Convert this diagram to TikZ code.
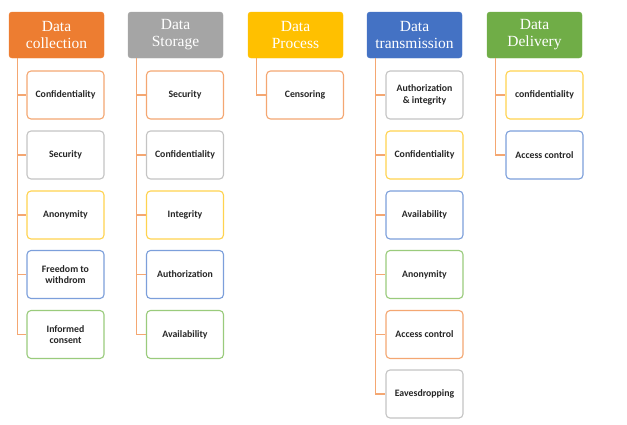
\documentclass[tikz,border=0pt]{standalone}
\usepackage{fontspec}
\setmainfont{Liberation Serif}
\newfontfamily\boxfont{Carlito}
\definecolor{orhead}{HTML}{ED7D31}
\definecolor{grhead}{HTML}{A5A5A5}
\definecolor{gdhead}{HTML}{FFC000}
\definecolor{blhead}{HTML}{4472C4}
\definecolor{gnhead}{HTML}{70AD47}
\definecolor{orline}{HTML}{F4A772}
\definecolor{grline}{HTML}{C4C4C4}
\definecolor{gdline}{HTML}{FFD34F}
\definecolor{blline}{HTML}{7C9FDB}
\definecolor{gnline}{HTML}{9ACB7C}
\tikzset{
  head/.style={draw=#1, fill=#1, rounded corners=3pt, minimum width=95pt, minimum height=46pt,
               text=white, align=center, inner sep=1pt, font=\fontsize{15.5}{17}\selectfont},
  item/.style={draw=#1, fill=white, rounded corners=4pt, line width=1.1pt, minimum width=77pt,
               minimum height=48pt, align=center, inner sep=1pt, text=black!85,
               font=\boxfont\bfseries\fontsize{9.8}{11.5}\selectfont},
  link/.style={draw=orline, line width=1.1pt}
}

\begin{document}
\begin{tikzpicture}[x=1pt,y=-1pt]
                \useasboundingbox (0,0) rectangle (627,424);
                % headers
                \node [head=orhead] (col) at (56.5,35) {Data\\collection};
                \node [head=grhead] (sto) at (175.5,35) {Data\\Storage};
                \node [head=gdhead] (pro) at (295.5,35) {Data\\Process};
                \node [head=blhead] (tra) at (414.5,35) {Data\\transmission};
                \node [head=gnhead] (del) at (534.5,35) {Data\\Delivery};
                % data collection
                \node [item=orline] (col1) at (65.5,95) {Confidentiality};
                \node [item=grline] (col2) at (65.5,155) {Security};
                \node [item=gdline] (col3) at (65.5,215) {Anonymity};
                \node [item=blline] (col4) at (65.5,274.5) {Freedom to\\withdrom};
                \node [item=gnline] (col5) at (65.5,334.5) {Informed\\consent};
                % data storage
                \node [item=orline] (sto1) at (185,95) {Security};
                \node [item=grline] (sto2) at (185,155) {Confidentiality};
                \node [item=gdline] (sto3) at (185,215) {Integrity};
                \node [item=blline] (sto4) at (185,274.5) {Authorization};
                \node [item=gnline] (sto5) at (185,334.5) {Availability};
                % data process
                \node [item=orline] (pro1) at (305,95) {Censoring};
                % data transmission
                \node [item=grline] (tra1) at (424.5,95) {Authorization\\\& integrity};
                \node [item=gdline] (tra2) at (424.5,155) {Confidentiality};
                \node [item=blline] (tra3) at (424.5,215) {Availability};
                \node [item=gnline] (tra4) at (424.5,274.5) {Anonymity};
                \node [item=orline] (tra5) at (424.5,334.5) {Access control};
                \node [item=grline] (tra6) at (424.5,394) {Eavesdropping};
                % data delivery
                \node [item=gdline] (del1) at (544.5,95) {confidentiality};
                \node [item=blline] (del2) at (544.5,155) {Access control};
                % connectors
                \coordinate (colT) at ([xshift=9pt]col.south west);
                \coordinate (stoT) at ([xshift=9pt]sto.south west);
                \coordinate (proT) at ([xshift=9pt]pro.south west);
                \coordinate (traT) at ([xshift=9pt]tra.south west);
                \coordinate (delT) at ([xshift=9pt]del.south west);
                \draw [link] (colT) |- (col1.west);
                \draw [link] (colT) |- (col2.west);
                \draw [link] (colT) |- (col3.west);
                \draw [link] (colT) |- (col4.west);
                \draw [link] (colT) |- (col5.west);
                \draw [link] (stoT) |- (sto1.west);
                \draw [link] (stoT) |- (sto2.west);
                \draw [link] (stoT) |- (sto3.west);
                \draw [link] (stoT) |- (sto4.west);
                \draw [link] (stoT) |- (sto5.west);
                \draw [link] (proT) |- (pro1.west);
                \draw [link] (traT) |- (tra1.west);
                \draw [link] (traT) |- (tra2.west);
                \draw [link] (traT) |- (tra3.west);
                \draw [link] (traT) |- (tra4.west);
                \draw [link] (traT) |- (tra5.west);
                \draw [link] (traT) |- (tra6.west);
                \draw [link] (delT) |- (del1.west);
                \draw [link] (delT) |- (del2.west);
            \end{tikzpicture}
\end{document}
